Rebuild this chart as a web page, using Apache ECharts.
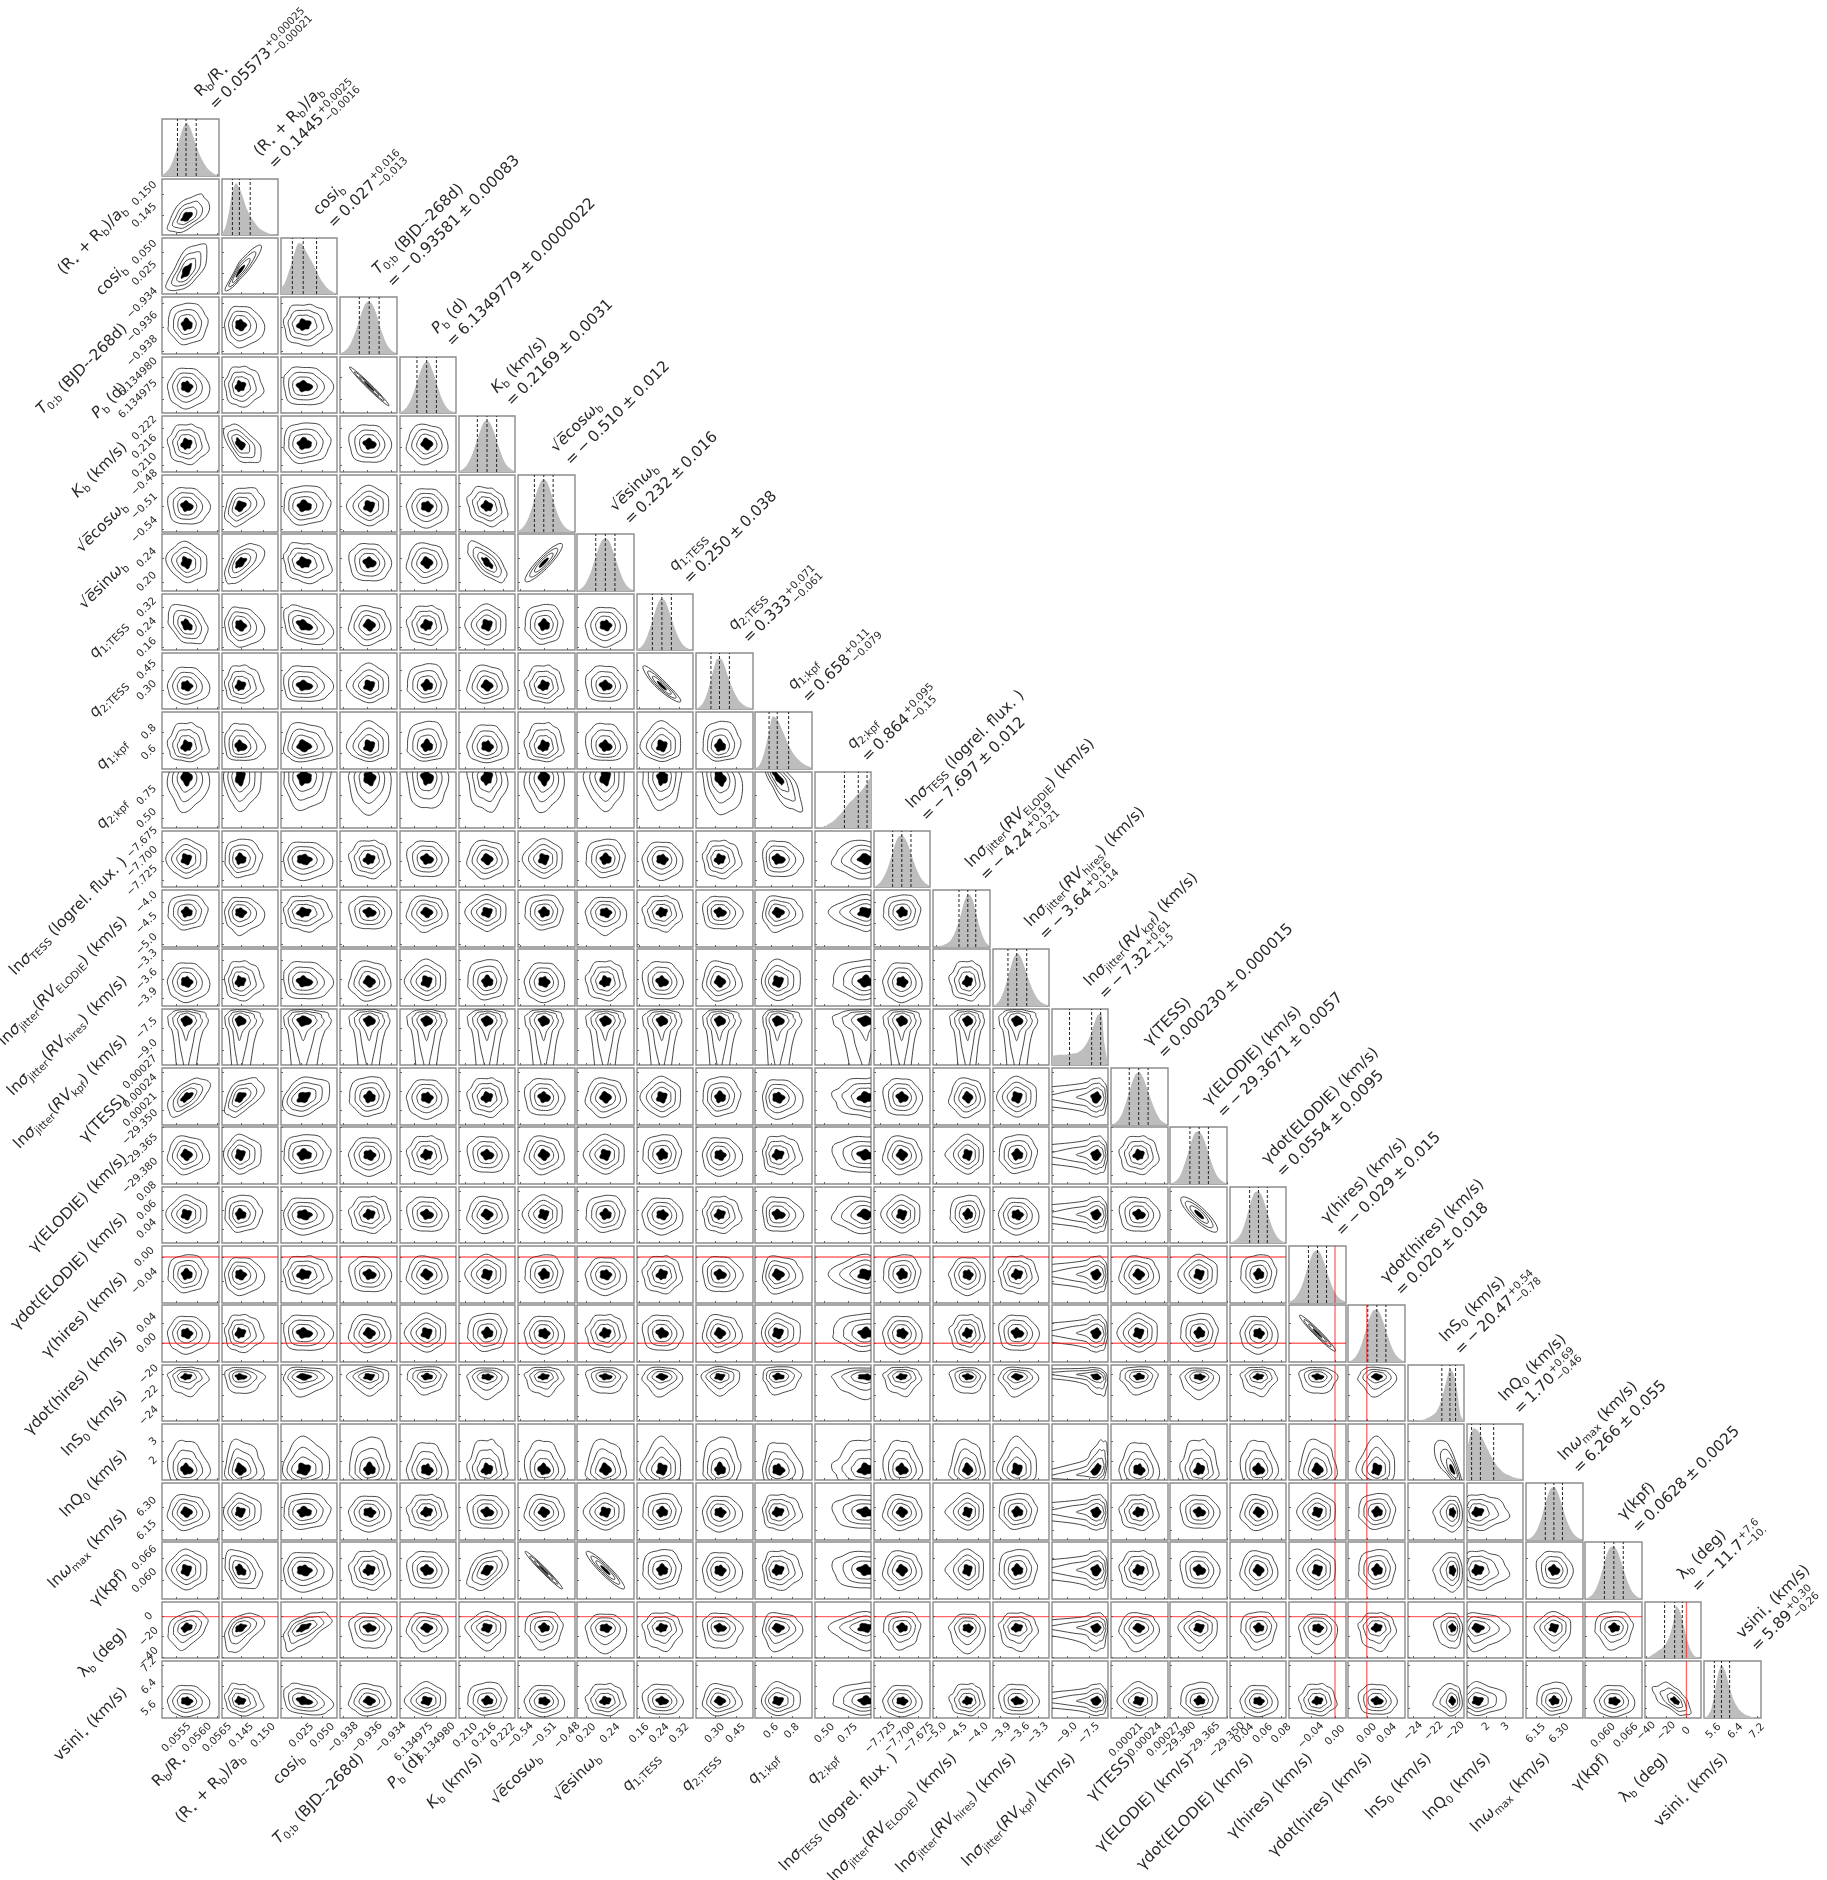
<!DOCTYPE html>
<html>
<head>
<meta charset="utf-8">
<title>corner plot</title>
<script src="https://cdn.jsdelivr.net/npm/echarts@6/dist/echarts.min.js"></script>
<style>
  html, body { margin: 0; padding: 0; background: #fff; }
  #main { width: 1827px; height: 1880px; }
</style>
</head>
<body>
<div id="main"></div>
<script>
// axis labels (rich text tokens, see richStyles)
const labels = [
  '{n|R}{s|b}{n|/R}{s|⋆}',
  '{n|(R}{s|⋆}{n| + R}{s|b}{n|)/}{i|a}{s|b}',
  '{n|cos}{i|i}{s|b}',
  '{i|T}{s|0;b}{n| (BJD--268d)}',
  '{i|P}{s|b}{n| (d)}',
  '{i|K}{s|b}{n| (km/s)}',
  '{n|√}{i|e̅}{n|cos}{i|ω}{s|b}',
  '{n|√}{i|e̅}{n|sin}{i|ω}{s|b}',
  '{i|q}{s|1;TESS}',
  '{i|q}{s|2;TESS}',
  '{i|q}{s|1;kpf}',
  '{i|q}{s|2;kpf}',
  '{n|ln}{i|σ}{s|TESS}{n| (logrel. flux. )}',
  '{n|ln}{i|σ}{s|jitter}{n|(}{i|RV}{s|ELODIE}{n|) (km/s)}',
  '{n|ln}{i|σ}{s|jitter}{n|(}{i|RV}{s|hires}{n|) (km/s)}',
  '{n|ln}{i|σ}{s|jitter}{n|(}{i|RV}{s|kpf}{n|) (km/s)}',
  '{n|γ(TESS)}',
  '{n|γ(ELODIE) (km/s)}',
  '{n|γdot(ELODIE) (km/s)}',
  '{n|γ(hires) (km/s)}',
  '{n|γdot(hires) (km/s)}',
  '{n|lnS}{s|0}{n| (km/s)}',
  '{n|lnQ}{s|0}{n| (km/s)}',
  '{n|ln}{i|ω}{s|max}{n| (km/s)}',
  '{n|γ(kpf)}',
  '{n|λ}{s|b}{n| (deg)}',
  '{n|vsini}{s|⋆}{n| (km/s)}'
];
// second title line, upper error, lower error
const titleValues = ['= 0.05573','= 0.1445','= 0.027','= − 0.93581 ± 0.00083','= 6.1349779 ± 0.0000022','= 0.2169 ± 0.0031',
  '= − 0.510 ± 0.012','= 0.232 ± 0.016','= 0.250 ± 0.038','= 0.333','= 0.658','= 0.864','= − 7.697 ± 0.012','= − 4.24','= − 3.64','= − 7.32',
  '= 0.000230 ± 0.000015','= − 29.3671 ± 0.0057','= 0.0554 ± 0.0095','= − 0.029 ± 0.015','= 0.020 ± 0.018','= − 20.47','= 1.70','= 6.266 ± 0.055',
  '= 0.0628 ± 0.0025','= − 11.7','= 5.89'];
const titleUp = ['+0.00025','+0.0025','+0.016','','','','','','','+0.071','+0.11','+0.095','','+0.19','+0.16','+0.61','','','','','','+0.54','+0.69','','','+7.6','+0.30'];
const titleDown = ['−0.00021','−0.0016','−0.013','','','','','','','−0.061','−0.079','−0.15','','−0.21','−0.14','−1.5','','','','','','−0.78','−0.46','','','−10.','−0.26'];

const axisMin = [0.05514,0.1405,0.0004,-0.93826,6.13497186,0.2079,-0.543,0.1848,0.1505,0.165,0.443,0.395,-7.7334,-5.07,-4.019,-10.01,0.000186,-29.3851,0.0248,-0.0762,-0.0373,-24.5,1.0,6.087,0.05516,-41.2,5.25];
const axisMax = [0.05654,0.1534,0.0674,-0.93348,6.13498454,0.2259,-0.470,0.2797,0.3745,0.573,0.994,1.002,-7.6601,-3.71,-3.124,-6.21,0.0002766,-29.3499,0.085,0.0182,0.076,-19.12,3.92,6.453,0.07026,14.5,7.34];

const tickValues = [
  [0.0555,0.056,0.0565],[0.145,0.15],[0.025,0.05],[-0.938,-0.936,-0.934],[6.134975,6.13498],[0.21,0.216,0.222],
  [-0.54,-0.51,-0.48],[0.2,0.24],[0.16,0.24,0.32],[0.3,0.45],[0.6,0.8],[0.5,0.75],
  [-7.725,-7.7,-7.675],[-5,-4.5,-4],[-3.9,-3.6,-3.3],[-9,-7.5],[0.00021,0.00024,0.00027],[-29.38,-29.365,-29.35],
  [0.04,0.06,0.08],[-0.04,0],[0,0.04],[-24,-22,-20],[2,3],[6.15,6.3],[0.06,0.066],[-40,-20,0],[5.6,6.4,7.2]
];
const tickLabels = [
  ['0.0555','0.0560','0.0565'],['0.145','0.150'],['0.025','0.050'],['−0.938','−0.936','−0.934'],['6.134975','6.134980'],['0.210','0.216','0.222'],
  ['−0.54','−0.51','−0.48'],['0.20','0.24'],['0.16','0.24','0.32'],['0.30','0.45'],['0.6','0.8'],['0.50','0.75'],
  ['−7.725','−7.700','−7.675'],['−5.0','−4.5','−4.0'],['−3.9','−3.6','−3.3'],['−9.0','−7.5'],['0.00021','0.00024','0.00027'],['−29.380','−29.365','−29.350'],
  ['0.04','0.06','0.08'],['−0.04','0.00'],['0.00','0.04'],['−24','−22','−20'],['2','3'],['6.15','6.30'],['0.060','0.066'],['−40','−20','0'],['5.6','6.4','7.2']
];

// 16% / 50% / 84% dashed lines
const quantLow = [0.05552,0.1429,0.014,-0.93664,6.1349757,0.2138,-0.522,0.216,0.212,0.272,0.579,0.714,-7.709,-4.45,-3.78,-8.82,0.000215,-29.3728,0.0459,-0.044,0.002,-21.25,1.24,6.211,0.0603,-21.7,5.63];
const quantMid = [0.05573,0.1445,0.027,-0.93581,6.1349779,0.2169,-0.51,0.232,0.25,0.333,0.658,0.864,-7.697,-4.24,-3.64,-7.32,0.00023,-29.3671,0.0554,-0.029,0.02,-20.47,1.7,6.266,0.0628,-11.7,5.89];
const quantHigh = [0.05598,0.147,0.043,-0.93498,6.1349801,0.22,-0.498,0.248,0.288,0.404,0.768,0.959,-7.685,-4.05,-3.48,-6.71,0.000245,-29.3614,0.0649,-0.014,0.038,-19.93,2.39,6.321,0.0653,-4.1,6.19];

// red reference lines, only on these three parameters
const truthParams = [19, 20, 25];
const truthValues = [0, 0, 0];

// histogram heights, 17 points evenly across each axis range
const histHeights = [
  [.02,.06,.14,.28,.48,.72,.93,1,.9,.7,.5,.34,.22,.13,.07,.03,.01],
  [.02,.15,.45,.85,1,.9,.72,.52,.38,.27,.18,.11,.07,.04,.02,.01,0],
  [.12,.2,.38,.6,.82,.98,.97,.84,.72,.6,.47,.33,.22,.13,.07,.03,.01],
  [.02,.04,.1,.2,.36,.56,.77,.94,1,.95,.8,.58,.37,.2,.1,.04,.02],
  [.02,.05,.12,.24,.42,.63,.83,.97,.99,.87,.68,.46,.27,.14,.06,.03,.01],
  [.02,.05,.11,.22,.38,.58,.78,.95,1,.93,.77,.56,.36,.2,.1,.05,.01],
  [.02,.06,.14,.28,.48,.7,.89,1,.96,.8,.58,.37,.21,.11,.05,.02,.01],
  [.01,.04,.1,.22,.38,.6,.8,.96,1,.95,.78,.58,.38,.21,.1,.04,.02],
  [.02,.05,.13,.28,.48,.7,.9,1,.95,.78,.58,.38,.22,.11,.05,.02,.01],
  [.01,.04,.12,.28,.52,.78,.97,.97,.84,.62,.44,.29,.17,.1,.05,.03,.01],
  [.01,.05,.18,.42,.72,1,.96,.84,.68,.52,.38,.27,.19,.13,.08,.05,.02],
  [0,.005,.02,.04,.08,.12,.18,.25,.33,.42,.5,.56,.64,.7,.78,.88,1],
  [.01,.04,.11,.22,.38,.6,.82,.97,1,.92,.77,.56,.37,.22,.12,.06,.02],
  [0,.01,.02,.04,.07,.13,.25,.43,.66,.9,1,.92,.68,.4,.2,.07,.02],
  [.01,.04,.12,.27,.48,.72,.93,1,.92,.74,.54,.36,.22,.12,.06,.03,.01],
  [.18,.19,.2,.2,.2,.21,.22,.23,.27,.33,.43,.58,.78,.96,1,.4,.03],
  [.01,.03,.09,.2,.38,.6,.82,.97,1,.9,.72,.52,.34,.19,.09,.04,.01],
  [.01,.03,.08,.18,.36,.58,.8,.97,1,.93,.76,.54,.34,.18,.09,.04,.01],
  [.01,.03,.08,.17,.33,.56,.8,.97,1,.93,.74,.52,.32,.17,.08,.03,.01],
  [.02,.05,.12,.23,.4,.62,.83,.97,1,.92,.74,.52,.33,.19,.1,.05,.02],
  [.01,.03,.09,.2,.38,.6,.82,.97,1,.92,.74,.52,.33,.18,.09,.04,.01],
  [0,.005,.01,.015,.02,.04,.07,.11,.17,.3,.52,.78,1,.92,.6,.12,0],
  [.55,.88,1,.96,.86,.72,.58,.45,.33,.24,.17,.12,.09,.06,.04,.03,.02],
  [.01,.03,.08,.18,.35,.58,.82,.98,1,.88,.68,.46,.28,.15,.07,.03,.01],
  [.01,.03,.08,.18,.35,.58,.82,.97,1,.92,.74,.52,.32,.17,.08,.03,.01],
  [0,.02,.06,.1,.15,.2,.28,.42,.66,1,.9,.64,.36,.16,.05,.01,0],
  [.01,.04,.16,.48,.85,1,.88,.62,.4,.25,.15,.09,.05,.03,.01,.005,0]
];

// where the contours of each parameter sit on its axis, at -3..+3 contour units
// (0 = middle of the black blob, +-1 third line, +-2 outer line)
const contourSpan = [
  [.0551,.05529,.05552,.05573,.05598,.05625,.05655],
  [.14,.1412,.1429,.1445,.147,.1496,.153],
  [-.002,.004,.014,.027,.043,.059,.075],
  [-.9383,-.93747,-.93664,-.93581,-.93498,-.93415,-.93332],
  [6.1349713,6.1349735,6.1349757,6.1349779,6.1349801,6.1349823,6.1349845],
  [.2076,.2107,.2138,.2169,.22,.2231,.2262],
  [-.546,-.534,-.522,-.51,-.498,-.486,-.474],
  [.184,.2,.216,.232,.248,.264,.28],
  [.136,.174,.212,.25,.288,.326,.364],
  [.17,.215,.272,.333,.404,.48,.565],
  [.47,.52,.579,.658,.768,.885,.99],
  [.42,.59,.79,.95,1.06,1.15,1.25],
  [-7.733,-7.721,-7.709,-7.697,-7.685,-7.673,-7.661],
  [-5.07,-4.66,-4.45,-4.24,-4.05,-3.86,-3.68],
  [-4.06,-3.92,-3.78,-3.64,-3.48,-3.32,-3.16],
  [-13,-11,-7.7,-6.97,-6.5,-6.25,-6.1],
  [.000185,.0002,.000215,.00023,.000245,.00026,.000275],
  [-29.3842,-29.3785,-29.3728,-29.3671,-29.3614,-29.3557,-29.35],
  [.0269,.0364,.0459,.0554,.0649,.0744,.0839],
  [-.074,-.059,-.044,-.029,-.014,.001,.016],
  [-.034,-.016,.002,.02,.038,.056,.074],
  [-23.4,-21.97,-20.8,-20.23,-19.75,-19.35,-19],
  [.3,.7,1.1,1.5,2.14,3.07,4],
  [6.101,6.156,6.211,6.266,6.321,6.376,6.431],
  [.0553,.0578,.0603,.0628,.0653,.0678,.0703],
  [-45,-33,-19,-11,-4,3.5,10],
  [5.15,5.36,5.62,5.87,6.16,6.49,6.9]
];

// tilted panels: row, column, tilt. Everything else stands upright.
const tiltRows = [1,2,2,4,5,6,6,7,7,7,7,7,8,8,8,9,11,11,16,16,16,18,20,21,22,22,24,24,24,24,25,25,25,26,26,26];
const tiltCols = [0,0,1,3,1,1,5,0,1,2,5,6,0,1,2,8,9,10,0,1,2,17,19,15,15,21,1,5,6,7,0,1,2,1,2,25];
const tiltAmounts = [.55,.65,.93,-.985,-.55,.3,-.2,-.15,.55,-.15,-.7,.9,-.35,-.1,-.3,-.93,-.2,-.8,.6,.5,.3,-.85,-.97,-.35,.5,-.75,-.35,.45,-.98,-.93,.3,.45,.6,-.15,-.2,-.6];

// contour outlines, radius every 15 degrees: outer, middle, inner, black blob
const outlines = [
  [[2.10,2.05,2.00,2.08,2.02,1.95,2.00,2.08,2.12,2.05,2.00,1.95,2.02,2.10,2.05,1.98,2.05,2.12,2.08,2.00,1.96,2.04,2.12,2.15],
   [1.55,1.50,1.48,1.52,1.46,1.42,1.48,1.55,1.56,1.50,1.45,1.48,1.52,1.55,1.50,1.46,1.50,1.56,1.52,1.46,1.44,1.50,1.55,1.58],
   [1.05,1.02,.98,1.0,.95,.95,1.0,1.05,1.06,1.0,.96,.98,1.02,1.04,1.0,.96,1.0,1.05,1.02,.96,.95,1.0,1.04,1.06],
   [.65,.62,.55,.5,.48,.52,.6,.65,.6,.52,.5,.55,.62,.6,.5,.45,.48,.55,.62,.65,.58,.5,.55,.62]],
  [[1.98,2.02,2.10,2.05,2.00,2.06,2.14,2.10,2.02,1.96,2.02,2.12,2.18,2.10,2.02,1.98,1.95,2.00,2.06,2.02,1.94,1.98,2.05,2.00],
   [1.44,1.48,1.54,1.50,1.46,1.52,1.58,1.54,1.48,1.44,1.50,1.56,1.60,1.54,1.48,1.45,1.42,1.46,1.52,1.48,1.42,1.46,1.50,1.46],
   [.95,.98,1.04,1.0,.98,1.02,1.06,1.04,.98,.96,1.0,1.06,1.08,1.02,.98,.95,.94,.98,1.02,1.0,.94,.96,1.0,.98],
   [.5,.55,.65,.62,.52,.48,.55,.62,.68,.6,.5,.44,.5,.6,.65,.58,.5,.5,.58,.66,.6,.5,.46,.48]],
  [[2.02,2.08,2.04,2.12,2.2,2.14,2.1,2.06,2.12,2.16,2.08,2.02,1.98,2.04,1.96,1.92,1.98,2.04,2.0,1.94,1.98,2.06,2.0,1.96],
   [1.48,1.52,1.5,1.56,1.6,1.56,1.52,1.5,1.54,1.58,1.52,1.48,1.44,1.48,1.44,1.42,1.46,1.5,1.46,1.42,1.46,1.5,1.48,1.46],
   [1.0,1.02,1.0,1.05,1.08,1.05,1.02,1.0,1.04,1.06,1.0,.98,.96,.98,.95,.94,.98,1.0,.98,.95,.96,1.0,.98,.98],
   [.6,.65,.58,.5,.55,.66,.7,.62,.5,.46,.52,.6,.56,.48,.44,.5,.58,.62,.55,.46,.5,.6,.64,.62]],
  [[2.12,2.06,2.0,1.96,2.0,1.94,1.9,1.96,2.02,1.98,1.94,2.0,2.06,2.02,2.08,2.14,2.1,2.16,2.2,2.14,2.1,2.16,2.2,2.16],
   [1.54,1.5,1.46,1.44,1.46,1.42,1.4,1.44,1.48,1.46,1.44,1.48,1.52,1.5,1.52,1.56,1.54,1.58,1.6,1.56,1.52,1.56,1.58,1.56],
   [1.04,1.0,.98,.96,.98,.95,.94,.98,1.0,.98,.96,1.0,1.02,1.0,1.04,1.06,1.04,1.06,1.08,1.04,1.02,1.05,1.06,1.05],
   [.7,.62,.5,.46,.52,.58,.5,.44,.5,.58,.6,.54,.5,.56,.62,.58,.5,.48,.56,.64,.68,.6,.58,.66]],
  [[2.05,1.98,2.04,2.1,2.02,2.08,1.98,2.04,2.12,2.02,1.96,2.08,2.02,1.94,2.02,2.1,2.04,1.96,2.04,2.12,2.04,1.98,2.08,2.14],
   [1.5,1.46,1.5,1.54,1.48,1.52,1.46,1.5,1.56,1.5,1.44,1.52,1.5,1.44,1.48,1.54,1.5,1.44,1.5,1.56,1.5,1.46,1.52,1.56],
   [1.0,.96,1.0,1.04,.98,1.02,.96,1.0,1.05,1.0,.95,1.02,1.0,.95,.98,1.04,1.0,.96,1.0,1.05,1.0,.96,1.02,1.05],
   [.55,.62,.66,.58,.48,.5,.58,.64,.55,.46,.42,.5,.6,.66,.6,.5,.52,.6,.54,.46,.5,.58,.52,.5]],
  [[2.16,2.1,2.02,1.98,2.04,2.0,1.96,2.04,2.1,2.06,2.14,2.08,2.0,1.96,2.02,2.08,2.02,1.96,1.92,1.98,2.06,2.12,2.08,2.14],
   [1.56,1.52,1.48,1.44,1.5,1.46,1.44,1.5,1.54,1.52,1.56,1.5,1.46,1.44,1.48,1.52,1.48,1.44,1.42,1.46,1.5,1.54,1.52,1.56],
   [1.05,1.02,.98,.95,1.0,.98,.96,1.0,1.04,1.02,1.05,1.0,.98,.96,.98,1.02,1.0,.96,.94,.98,1.0,1.04,1.02,1.05],
   [.72,.64,.52,.45,.46,.55,.62,.58,.5,.52,.62,.68,.62,.5,.44,.48,.56,.6,.54,.48,.52,.62,.66,.7]],
  [[2,2,2,2,2,2,2,2,2,2,2,2,2,2,2,2,2,2,2,2,2,2,2,2],
   [1.5,1.5,1.5,1.5,1.5,1.5,1.5,1.5,1.5,1.5,1.5,1.5,1.5,1.5,1.5,1.5,1.5,1.5,1.5,1.5,1.5,1.5,1.5,1.5],
   [1,1,1,1,1,1,1,1,1,1,1,1,1,1,1,1,1,1,1,1,1,1,1,1],
   [.5,.5,.5,.5,.5,.5,.5,.5,.5,.5,.5,.5,.5,.5,.5,.5,.5,.5,.5,.5,.5,.5,.5,.5]]
];
// outline for the panels of the long tail parameter (tail pointing down)
const tailOutline = [
  [2.1,2.0,2.14,2.04,1.94,2.1,2.18,2.0,2.12,2.04,1.92,2.1,2.0,1.98,1.84,1.86,2.08,2.26,2.6,2.3,2.0,1.82,1.9,2.02],
  [1.56,1.44,1.56,1.5,1.42,1.54,1.6,1.46,1.54,1.52,1.42,1.54,1.48,1.46,1.38,1.36,1.48,1.62,1.86,1.58,1.42,1.34,1.42,1.5],
  [1.04,.96,1.04,1.0,.96,1.04,1.06,.96,1.0,1.04,.96,1.0,1.0,.96,.92,.92,.98,1.1,1.2,1.06,.94,.9,.94,.98],
  [.62,.58,.52,.5,.52,.58,.64,.6,.52,.5,.55,.62,.6,.52,.48,.5,.56,.6,.54,.48,.5,.56,.62,.64]
];
// which outline each lower panel uses, one string per row from row 1
const outlineChoice = ['0','16','234','3456','41250','502134','1345026','23504123','345120456','4501234512','01235401234','123450123450','2345012345012',
  '34501234501234','450123450123450','5012345012345012','01234501234501234','123450123450123456','2345012345012345012','34501234501234501236',
  '450123450123450123450','5012345012345012345016','01234501234501234501234','123450662345012345012345','2345012345012345012345012','34501234501234501234501234'];

const N = labels.length;
const TAIL_PARAM = 15;
// contour levels and how much of each outline's wobble is kept
const LEVELS = [2, 1.5, 1, 0.5];
const ROUGHNESS = [1.7, 1.4, 1.1, 1.0];
const fontName = 'DejaVu Sans';
const PANEL = 56.5, STEP = 59.3, LEFT = 162.3, TOP = 119.3;
const TEXT_COLOR = '#2a2a2a', FRAME_COLOR = '#8c8c8c', LINE_COLOR = '#333', RED = 'rgba(255,0,0,0.6)';
const NAME_SIZE = 15.5, SMALL_SIZE = 10.5;

const richStyles = {
  n: { fontFamily: fontName, fontSize: NAME_SIZE, fill: TEXT_COLOR, color: TEXT_COLOR, lineHeight: 20 },
  i: { fontFamily: fontName, fontSize: NAME_SIZE, fontStyle: 'italic', fill: TEXT_COLOR, color: TEXT_COLOR, lineHeight: 20 },
  s: { fontFamily: fontName, fontSize: SMALL_SIZE, fill: TEXT_COLOR, color: TEXT_COLOR, lineHeight: 12, verticalAlign: 'bottom' }
};

function tiltOf(r, c) {
  for (let k = 0; k < tiltRows.length; k++) {
    if (tiltRows[k] === r && tiltCols[k] === c) return tiltAmounts[k];
  }
  return 0;
}

// contour units -> axis value, through the contourSpan table
function toAxis(p, z) {
  const t = contourSpan[p];
  const pos = Math.max(0, Math.min(5.999, z + 3));
  const k = Math.floor(pos);
  return t[k] + (t[k + 1] - t[k]) * (z + 3 - k);
}

function truthOf(p) {
  const k = truthParams.indexOf(p);
  return k < 0 ? null : truthValues[k];
}

function widest(list) {
  let w = 0;
  list.forEach(function (s) { w = Math.max(w, s.length * 6.2); });
  return w;
}

// tail down for the row, tail left for the column: turn the list by 90 degrees
function outlineFor(r, c) {
  if (r === TAIL_PARAM) return tailOutline;
  if (c === TAIL_PARAM) return tailOutline.map(function (radii) { return radii.slice(6).concat(radii.slice(0, 6)); });
  return outlines[+outlineChoice[r - 1].charAt(c) || 0];
}

const grids = [], xAxes = [], yAxes = [], series = [];

function tickLabelOptions(show, p) {
  return {
    show: show, customValues: tickValues[p], rotate: 45, align: 'center', verticalAlign: 'middle',
    margin: 3 + (widest(tickLabels[p]) * 0.707 + 7) / 2, fontSize: 10.5, fontFamily: fontName, color: TEXT_COLOR,
    formatter: function (v) { return tickLabels[p][tickValues[p].indexOf(v)]; }
  };
}

function addAxes(r, c, diag) {
  const idx = grids.length;
  const left = Math.round(LEFT + STEP * c), top = Math.round(TOP + STEP * r);
  grids.push({
    left: left, top: top, width: Math.round(LEFT + STEP * c + PANEL) - left, height: Math.round(TOP + STEP * r + PANEL) - top,
    show: true, borderColor: FRAME_COLOR, borderWidth: 1.4, backgroundColor: '#fff'
  });
  xAxes.push({
    gridIndex: idx, type: 'value', min: axisMin[c], max: axisMax[c], position: 'bottom',
    axisLine: { show: false, onZero: false }, splitLine: { show: false },
    axisTick: { show: true, inside: true, length: 2, customValues: tickValues[c], lineStyle: { color: '#666', width: 1 } },
    axisLabel: tickLabelOptions(r === N - 1, c)
  });
  if (diag) {
    yAxes.push({ gridIndex: idx, type: 'value', min: 0, max: 1.08, show: false });
  } else {
    yAxes.push({
      gridIndex: idx, type: 'value', min: axisMin[r], max: axisMax[r], position: 'left',
      axisLine: { show: false, onZero: false }, splitLine: { show: false },
      axisTick: { show: true, inside: true, length: 2, customValues: tickValues[r], lineStyle: { color: '#666', width: 1 } },
      axisLabel: tickLabelOptions(c === 0, r)
    });
  }
  return idx;
}

function addDiagonal(p) {
  const idx = addAxes(p, p, true);
  const pts = histHeights[p].map(function (h, i) {
    return [axisMin[p] + (axisMax[p] - axisMin[p]) * i / (histHeights[p].length - 1), h];
  });
  series.push({
    type: 'line', xAxisIndex: idx, yAxisIndex: idx, data: pts, smooth: 0.25, showSymbol: false, silent: true,
    lineStyle: { width: 0 }, areaStyle: { color: '#bdbdbd', opacity: 1 }, animation: false
  });
  // dashed quantile lines and the red line
  series.push({
    type: 'custom', xAxisIndex: idx, yAxisIndex: idx, clip: true, silent: true, animation: false, z: 5,
    data: [[quantMid[p], 0.5]],
    renderItem: function (params, api) {
      const kids = [quantLow[p], quantMid[p], quantHigh[p]].map(function (v) {
        const a = api.coord([v, 0]), b = api.coord([v, 1.08]);
        return { type: 'line', shape: { x1: a[0], y1: a[1], x2: b[0], y2: b[1] }, style: { stroke: '#222', lineWidth: 1, lineDash: [3, 2] } };
      });
      if (truthOf(p) !== null) {
        const a = api.coord([truthOf(p), 0]), b = api.coord([truthOf(p), 1.08]);
        kids.push({ type: 'line', shape: { x1: a[0], y1: a[1], x2: b[0], y2: b[1] }, style: { stroke: RED, lineWidth: 1.3 } });
      }
      return { type: 'group', children: kids };
    }
  });
}

function addPanel(r, c) {
  const idx = addAxes(r, c, false);
  const rho = tiltOf(r, c);
  const shape = outlineFor(r, c);
  const hasTail = r === TAIL_PARAM || c === TAIL_PARAM;
  series.push({
    type: 'custom', xAxisIndex: idx, yAxisIndex: idx, silent: true, animation: false,
    data: [[toAxis(c, 0), toAxis(r, 0)]],
    renderItem: function (params, api) {
      // contours may run past the axis limits, so scale from the two corners and clip to the panel
      const p0 = api.coord([axisMin[c], axisMin[r]]), p1 = api.coord([axisMax[c], axisMax[r]]);
      const pixel = function (xv, yv) {
        return [
          p0[0] + (xv - axisMin[c]) / (axisMax[c] - axisMin[c]) * (p1[0] - p0[0]),
          p0[1] + (yv - axisMin[r]) / (axisMax[r] - axisMin[r]) * (p1[1] - p0[1])
        ];
      };
      const kids = [];
      shape.forEach(function (radii, level) {
        // the thin, strongly tilted panels are smooth in the picture, the rest are rough
        const rough = hasTail ? 1 : (Math.abs(rho) > 0.8 ? 0.4 : ROUGHNESS[level]);
        const points = radii.map(function (rad0, k) {
          const rad = LEVELS[level] + (rad0 - LEVELS[level]) * rough;
          const a = k * Math.PI / 12;
          const zx = rad * Math.cos(a);
          const zy = rho * zx + Math.sqrt(1 - rho * rho) * rad * Math.sin(a);
          return pixel(toAxis(c, zx), toAxis(r, zy));
        });
        kids.push({
          type: 'polygon', shape: { points: points, smooth: 0.35 },
          style: level === 3 ? { fill: '#000', stroke: '#000', lineWidth: 0.5 } : { fill: 'none', stroke: LINE_COLOR, lineWidth: 0.9 }
        });
      });
      // red reference lines
      if (truthOf(c) !== null) {
        const a = api.coord([truthOf(c), axisMin[r]]), b = api.coord([truthOf(c), axisMax[r]]);
        kids.push({ type: 'line', shape: { x1: a[0], y1: a[1], x2: b[0], y2: b[1] }, style: { stroke: RED, lineWidth: 1.3 } });
      }
      if (truthOf(r) !== null) {
        const a = api.coord([axisMin[c], truthOf(r)]), b = api.coord([axisMax[c], truthOf(r)]);
        kids.push({ type: 'line', shape: { x1: a[0], y1: a[1], x2: b[0], y2: b[1] }, style: { stroke: RED, lineWidth: 1.3 } });
      }
      return {
        type: 'group', children: kids,
        clipPath: { type: 'rect', shape: { x: p0[0], y: p1[1], width: p1[0] - p0[0], height: p0[1] - p1[1] } }
      };
    }
  });
}

for (let r = 0; r < N; r++) {
  for (let c = 0; c < r; c++) addPanel(r, c);
  addDiagonal(r);
}

// rotated axis names and titles
const measure = document.createElement('canvas').getContext('2d');
measure.font = NAME_SIZE + 'px "' + fontName + '"';
const graphics = [];

function richText(str, x, y, align) {
  return {
    type: 'text', x: x, y: y, rotation: Math.PI / 4, silent: true,
    style: { text: str, rich: richStyles, align: align, verticalAlign: 'middle', textAlign: align, textVerticalAlign: 'middle',
      fontFamily: fontName, fontSize: NAME_SIZE, fill: TEXT_COLOR }
  };
}
function plainText(str, x, y, size) {
  return {
    type: 'text', x: x, y: y, silent: true,
    style: { text: str, align: 'left', verticalAlign: 'middle', textAlign: 'left', textVerticalAlign: 'middle',
      fontFamily: fontName, fontSize: size, fill: TEXT_COLOR }
  };
}

for (let p = 0; p < N; p++) {
  const cx = LEFT + STEP * p + PANEL / 2;
  const cy = TOP + STEP * p + PANEL / 2;
  const top = TOP + STEP * p;
  // x name under the last row, y name left of the first column
  graphics.push(richText(labels[p], cx - 7, 1756, 'right'));
  if (p > 0) graphics.push(richText(labels[p], 125, cy + 1, 'right'));
  // title above the diagonal
  const lx = cx + 22, ly = top - 12;
  graphics.push(richText(labels[p], lx - 15, ly - 13, 'left'));
  // narrow spaces, as the original math text has them
  const valueText = titleValues[p].replace(/ /g, '\u2009');
  const kids = [plainText(valueText, 0, 0, NAME_SIZE)];
  if (titleUp[p]) {
    const w = measure.measureText(valueText).width + 1;
    kids.push(plainText(titleUp[p], w, -5, SMALL_SIZE));
    kids.push(plainText(titleDown[p], w, 6, SMALL_SIZE));
  }
  graphics.push({ type: 'group', x: lx, y: ly, rotation: Math.PI / 4, silent: true, children: kids });
}

const myChart = echarts.init(document.getElementById('main'), null, { renderer: 'canvas' });
myChart.setOption({
  backgroundColor: '#fff',
  animation: false,
  grid: grids,
  xAxis: xAxes,
  yAxis: yAxes,
  series: series,
  graphic: { elements: graphics }
});
</script>
</body>
</html>
